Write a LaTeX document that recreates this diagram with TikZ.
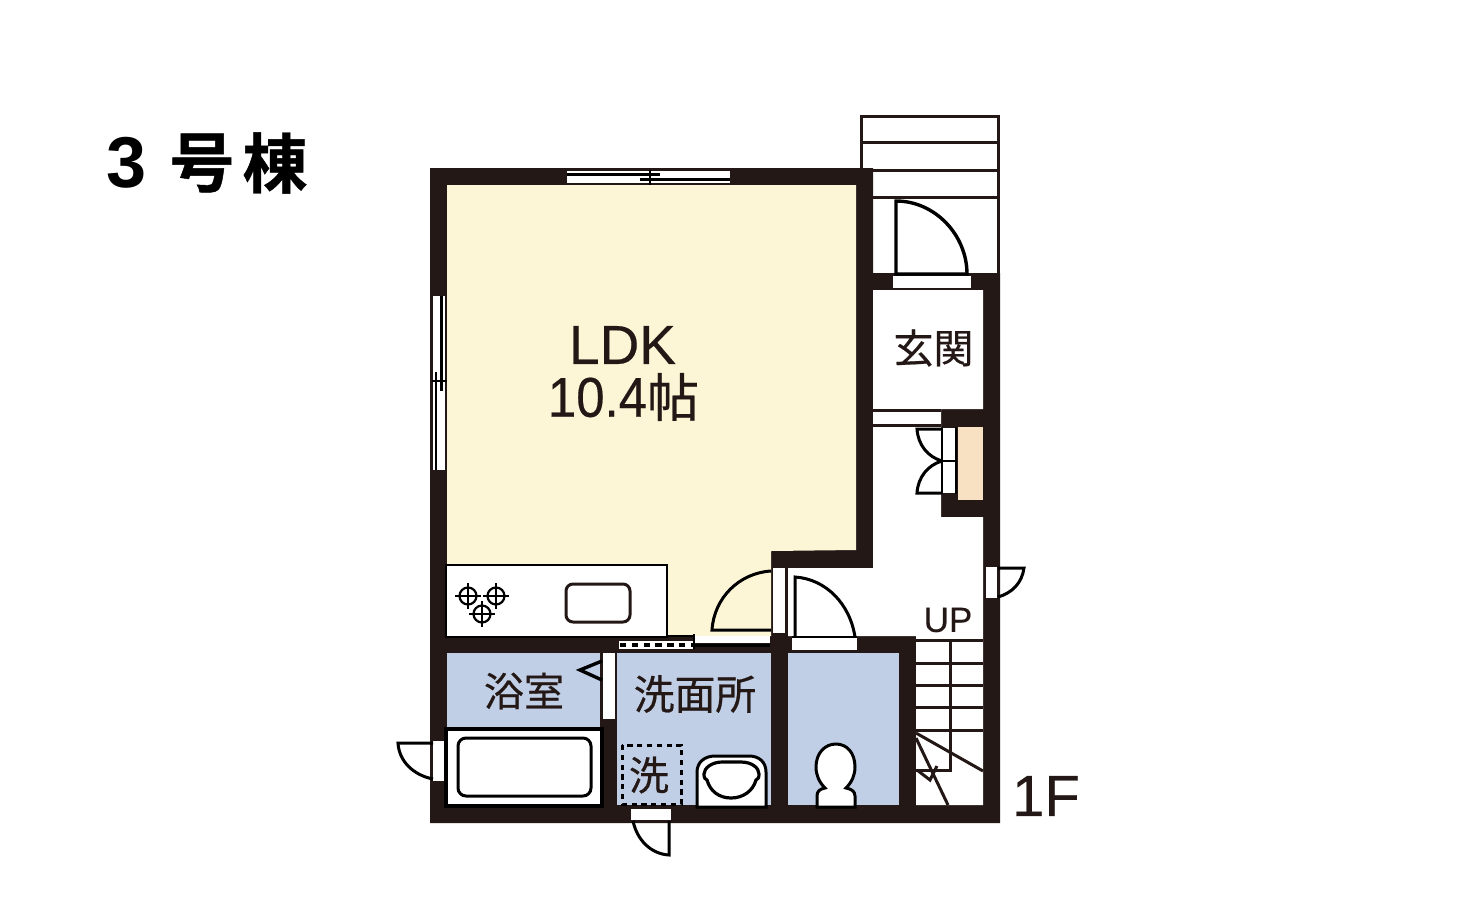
\documentclass[tikz,border=0pt]{standalone}
\usepackage{fontspec}
\setmainfont[FakeBold=0.35]{Liberation Sans}
\newfontfamily\jp[FakeBold=0.5]{Noto Sans CJK JP}
\newfontfamily\jpb[FakeBold=0.7]{Noto Sans CJK JP Bold}
\newfontfamily\lsb{Liberation Sans}
\definecolor{wall}{HTML}{231815}
\definecolor{ldk}{HTML}{FCF6D7}
\definecolor{wet}{HTML}{C1CFE6}
\definecolor{tan}{HTML}{F8E1C2}
\tikzset{
  wallfill/.style={fill=wall,draw=none},
  opening/.style={fill=white,draw=none},
  thinline/.style={draw=wall,line width=1.5pt},
  doorleaf/.style={draw=black,line width=1.5pt,fill=none,line join=miter},
  fixture/.style={draw=black,line width=1.4pt,fill=white},
  label/.style={inner sep=0pt,text=wall,anchor=center}
}
\begin{document}
\begin{tikzpicture}[x=0.5pt,y=-0.5pt]
\useasboundingbox (0,0) rectangle (1479,901);
\fill[white] (0,0) rectangle (1479,901);
% outside stairs
\draw[thinline] (861,168) -- (861,116) -- (998,116) -- (998,274);
\draw[thinline] (861,142.5) -- (998,142.5);
\draw[thinline] (861,170) -- (998,170);
\draw[thinline] (873,197) -- (998,197);
% walls
\fill[wallfill] (430,168) -- (873,168) -- (873,273) -- (1000,273) -- (1000,823) -- (430,823) -- cycle;
% rooms
\fill[ldk] (447,185) -- (856,185) -- (856,550) -- (771,551) -- (771,636) -- (447,636) -- cycle;
\fill[white] (873,290) -- (983,290) -- (983,409) -- (941,409) -- (941,517) -- (983,517) -- (983,805) -- (916,805) -- (916,636) -- (788,636) -- (788,568) -- (873,568) -- cycle;
\fill[wet] (447,653) rectangle (600,728);
\fill[wet] (617,653) rectangle (771,805);
\fill[wet] (788,653) rectangle (899,805);
\fill[tan] (958,427) rectangle (983,500);
% openings
\fill[opening] (567,171) rectangle (730,183);
\fill[opening] (433,296) rectangle (445,470);
\fill[opening] (893,276) rectangle (971,288);
\fill[opening] (943,428) rectangle (955,493);
\fill[opening] (986,567) rectangle (997,598);
\fill[opening] (773,568) rectangle (784.5,633);
\fill[opening] (792,638) rectangle (857,650);
\fill[opening] (603,653) rectangle (615,719);
\fill[opening] (433,741) rectangle (445,781);
\fill[opening] (631,809) rectangle (671,820);
\fill[opening] (619,641) rectangle (693,649);
\fill[opening] (695,636) rectangle (770,643);
% hall opening
\draw[draw=wall,line width=1.5pt] (873,410) -- (941,410);
\draw[draw=wall,line width=1.2pt] (873,425.5) -- (941,425.5);
% top window
\draw[draw=black,line width=1.2pt] (567,174.5) -- (660,174.5);
\draw[draw=black,line width=1.2pt] (640,179.5) -- (730,179.5);
\draw[draw=black,line width=1.2pt] (650,170) -- (650,185);
% left window
\draw[draw=black,line width=1.3pt] (436,372) -- (436,470);
\draw[draw=black,line width=1.3pt] (441.5,296) -- (441.5,391);
\draw[draw=black,line width=1.2pt] (432,381) -- (447,381);
% sliding door
\draw[draw=black,line width=1.6pt,dash pattern=on 3.2pt off 2.7pt] (620,645) -- (693,645);
\draw[draw=black,line width=1.4pt] (694,634) -- (694,649);
\draw[draw=black,line width=1.5pt] (694,645) -- (770,645);
\draw[draw=black,line width=1.3pt] (665,636) -- (694,636);
% kitchen
\draw[fixture] (446,565) rectangle (667,637);
\draw[draw=wall,line width=1.5pt,rounded corners=3.5pt] (566,584) rectangle (630,622);
\foreach \cx/\cy in {468/596,496/596,482/614}{
  \draw[draw=black,line width=1.1pt] (\cx,\cy) circle[radius=8.5];
  \draw[draw=black,line width=0.8pt] (\cx-13,\cy) -- (\cx+13,\cy) (\cx,\cy-13) -- (\cx,\cy+13);
}
% bath
\draw[fixture,line width=1.6pt] (446,729) rectangle (602,806);
\draw[draw=black,line width=1.5pt,rounded corners=4pt] (458,738) rectangle (591,796);
\draw[doorleaf,line width=1.7pt] (602,661) -- (580,670) -- (602,680);
% doors
\draw[doorleaf,line width=1.7pt] (896,274) -- (896,201) .. controls (935,201) and (967,235) .. (967,274) -- cycle;
\draw[doorleaf] (942,429) -- (917,429) .. controls (918,445) and (928,457) .. (942,461);
\draw[doorleaf] (942,493) -- (917,493) .. controls (918,477) and (928,465) .. (942,461);
\draw[draw=black,line width=1.2pt] (942,428) -- (942,494) (956,427) -- (956,494) (942,461) -- (956,461);
\draw[doorleaf] (998,568) -- (1024,568) .. controls (1022,583) and (1012,593) .. (998,597);
\draw[doorleaf] (771,571) .. controls (739,573) and (714,598) .. (712,630) -- (771,630);
\draw[doorleaf] (795,637) -- (795,577) .. controls (826,579) and (850,604) .. (855,637);
\draw[draw=black,line width=1.4pt] (792,637) -- (857,637);
\draw[doorleaf] (433,743) -- (398,743) .. controls (399,761) and (413,775) .. (433,779);
\draw[doorleaf] (669,821) -- (669,855) .. controls (651,854) and (637,840) .. (633,821);
% washbasin and toilet
\draw[fixture,line width=1.5pt] (697,807) -- (697,772) .. controls (697,762) and (705,756) .. (715,756) -- (749,756) .. controls (759,756) and (766,762) .. (766,772) -- (766,807) -- cycle;
\draw[fixture,line width=1.6pt] (704,774) .. controls (704,768) and (712,762) .. (722,762) -- (741,762) .. controls (752,762) and (759,768) .. (759,774) .. controls (759,778) and (758,779) .. (756,780) .. controls (753,791) and (743,798) .. (731,798) .. controls (719,798) and (710,791) .. (707,780) .. controls (705,779) and (704,778) .. (704,774) -- cycle;
\draw[fixture,line width=1.5pt] (817,807) -- (817,796) .. controls (817,791) and (820,789) .. (825,788) .. controls (819,782) and (816,775) .. (816,767) .. controls (816,753) and (825,744) .. (836,744) .. controls (847,744) and (855,753) .. (855,767) .. controls (855,775) and (852,782) .. (846,788) .. controls (851,789) and (855,791) .. (855,796) -- (855,807) -- cycle;
% laundry area
\draw[draw=black,line width=1.5pt,dash pattern=on 2.6pt off 2.3pt] (622,745) rectangle (681,804);
% indoor stairs
\foreach \yy in {640.5,663,685,707,730}{\draw[thinline] (916,\yy) -- (983,\yy);}
\draw[thinline] (950,640.5) -- (950,770) -- (916,770);
\draw[thinline] (916,733) -- (983,771);
\draw[thinline] (916,738) -- (948,805);
\draw[thinline] (917,770) -- (930,780) -- (937,766);
% labels
\node[label,font=\fontsize{27.5}{28}\selectfont] (ldk) at (622.5,345) {LDK};
\node[label,font=\fontsize{28}{28}\selectfont] (area) at (623.5,397) {\scalebox{0.91}[1]{10.4}{\jp\fontsize{26}{26}\selectfont 帖}};
\node[label,font=\jp\fontsize{20}{20}\selectfont] (bath) at (524,691) {浴室};
\node[label,font=\jp\fontsize{20.4}{20}\selectfont] (wash) at (695,694) {洗面所};
\node[label,font=\jp\fontsize{20}{20}\selectfont] (hall) at (933.5,348) {玄関};
\node[label,font=\jp\fontsize{20}{20}\selectfont] (wm) at (649,775) {洗};
\node[label,font=\fontsize{17.5}{17.5}\selectfont] (up) at (948,620) {UP};
\node[label,font=\fontsize{29}{29}\selectfont] (floor) at (1046,796) {1F};
\node[inner sep=0pt,text=black,font=\lsb\bfseries\fontsize{36}{36}\selectfont] (t3) at (127,163) {3};
\node[inner sep=0pt,text=black,font=\jpb\fontsize{32.5}{33}\selectfont] (t4) at (202,163) {号};
\node[inner sep=0pt,text=black,font=\jpb\fontsize{32.5}{33}\selectfont] (t5) at (275,163) {棟};
\end{tikzpicture}
\end{document}
